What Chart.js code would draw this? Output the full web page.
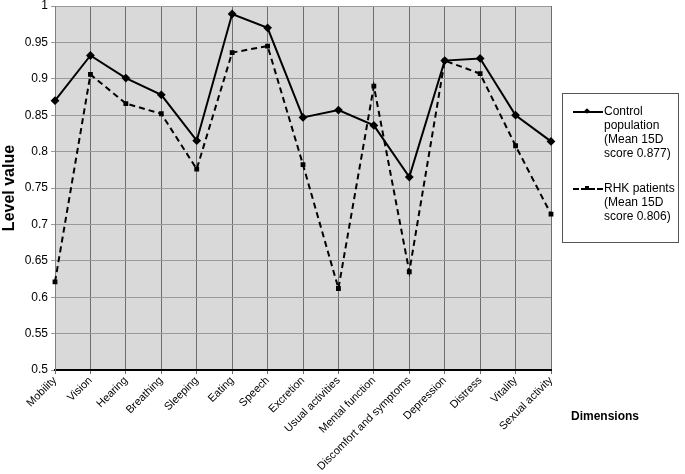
<!DOCTYPE html>
<html>
<head>
<meta charset="utf-8">
<script src="https://cdn.jsdelivr.net/npm/chart.js@4"></script>
<style>
  html, body { margin: 0; padding: 0; background: #fff; }
  #wrap { position: relative; width: 685px; height: 474px; font-family: 'Liberation Sans', Arial, sans-serif; }
  #legend {
    position: absolute; left: 562px; top: 93px; width: 117px; height: 150px;
    border: 1px solid #555; box-sizing: border-box; background: #fff;
  }
  .item { position: absolute; left: 10px; font-size: 12px; line-height: 14px; color: #000; }
  .item .sample { position: absolute; left: 0; top: 7px; width: 30px; height: 0; }
  .item .text { position: absolute; left: 31px; top: 0; width: 80px; white-space: nowrap; }
  #dimensions { position: absolute; left: 571px; top: 409px; font-size: 12px; font-weight: bold; color: #000; }
</style>
</head>
<body>
<div id="wrap">
  <canvas id="graph" width="685" height="474"></canvas>
  <div id="legend"></div>
  <div id="dimensions">Dimensions</div>
</div>
<script>
// categories on the x axis
const DIMENSIONS = [
  'Mobility', 'Vision', 'Hearing', 'Breathing', 'Sleeping', 'Eating', 'Speech',
  'Excretion', 'Usual activities', 'Mental function', 'Discomfort and symptoms',
  'Depression', 'Distress', 'Vitality', 'Sexual activity',
]

// level values
const CONTROL_VALUES = [
  0.870, 0.932, 0.901, 0.878, 0.815, 0.989, 0.970,
  0.847, 0.857, 0.836, 0.765, 0.925, 0.928, 0.850, 0.814,
]
const RHK_VALUES = [
  0.621, 0.906, 0.866, 0.852, 0.776, 0.936, 0.945,
  0.782, 0.612, 0.890, 0.635, 0.925, 0.907, 0.808, 0.714,
]

const CONTROL_LABEL = ['Control', 'population', '(Mean 15D', 'score 0.877)']
const RHK_LABEL = ['RHK patients', '(Mean 15D', 'score 0.806)']

// y axis range and ticks
const Y_MIN = 0.5
const Y_MAX = 1
const Y_STEP = 0.05

const FONT = "'Liberation Sans', Arial, sans-serif"

// grey fill behind the plot area
const plotBackground = {
  id: 'plotBackground',
  beforeDraw(chart) {
    const { ctx, chartArea: a } = chart
    ctx.save()
    ctx.fillStyle = '#d9d9d9'
    ctx.fillRect(a.left, a.top, a.width, a.height)
    ctx.restore()
  },
}

const ctx = document.getElementById('graph').getContext('2d')

const graph = new Chart(ctx, {
  type: 'line',
  data: {
    labels: DIMENSIONS,
    datasets: [
      {
        label: CONTROL_LABEL.join(' '),
        data: CONTROL_VALUES,
        borderColor: '#000',
        backgroundColor: '#000',
        borderWidth: 2,
        pointStyle: 'rectRot',
        pointRadius: 3,
        tension: 0,
      },
      {
        label: RHK_LABEL.join(' '),
        data: RHK_VALUES,
        borderColor: '#000',
        backgroundColor: '#000',
        borderWidth: 2,
        borderDash: [6, 4],
        pointStyle: 'rect',
        pointRadius: 2,
        tension: 0,
      },
    ],
  },
  options: {
    responsive: false,
    animation: false,
    layout: { padding: { top: 6, right: 134, left: 0, bottom: 0 } },
    plugins: {
      legend: { display: false },
      tooltip: { enabled: false },
    },
    scales: {
      x: {
        offset: false,
        grid: { color: '#6e6e6e', tickLength: 4 },
        border: { color: '#000', width: 2 },
        ticks: {
          autoSkip: false,
          minRotation: 45,
          maxRotation: 45,
          padding: 0,
          color: '#000',
          font: { family: FONT, size: 11 },
        },
        afterFit(scale) { scale.height = 104 },
      },
      y: {
        min: Y_MIN,
        max: Y_MAX,
        grid: { color: '#9a9a9a', tickLength: 4 },
        border: { color: '#808080' },
        ticks: {
          stepSize: Y_STEP,
          padding: 3,
          color: '#000',
          font: { family: FONT, size: 12 },
          callback: (v) => String(+v.toFixed(2)),
        },
        title: {
          display: true,
          text: 'Level value',
          color: '#000',
          padding: 0,
          font: { family: FONT, size: 16, weight: 'bold' },
        },
        afterFit(scale) {
          scale.width = 55
          scale.paddingTop = 0
          scale.paddingBottom = 0
        },
      },
    },
  },
  plugins: [plotBackground],
})

// legend built beside the chart
function addLegendItem(lines, top, dashed) {
  const item = document.createElement('div')
  item.className = 'item'
  item.style.top = top + 'px'
  const sample = document.createElement('div')
  sample.className = 'sample'
  sample.style.borderTop = dashed ? '2px dashed #000' : '2px solid #000'
  const marker = document.createElement('div')
  marker.style.cssText = 'position:absolute;left:12px;top:-4px;width:4px;height:4px;background:#000;' +
    (dashed ? '' : 'transform:rotate(45deg);')
  sample.appendChild(marker)
  const text = document.createElement('div')
  text.className = 'text'
  text.innerHTML = lines.join('<br>')
  item.appendChild(sample)
  item.appendChild(text)
  document.getElementById('legend').appendChild(item)
}
addLegendItem(CONTROL_LABEL, 10, false)
addLegendItem(RHK_LABEL, 87, true)
</script>
</body>
</html>
